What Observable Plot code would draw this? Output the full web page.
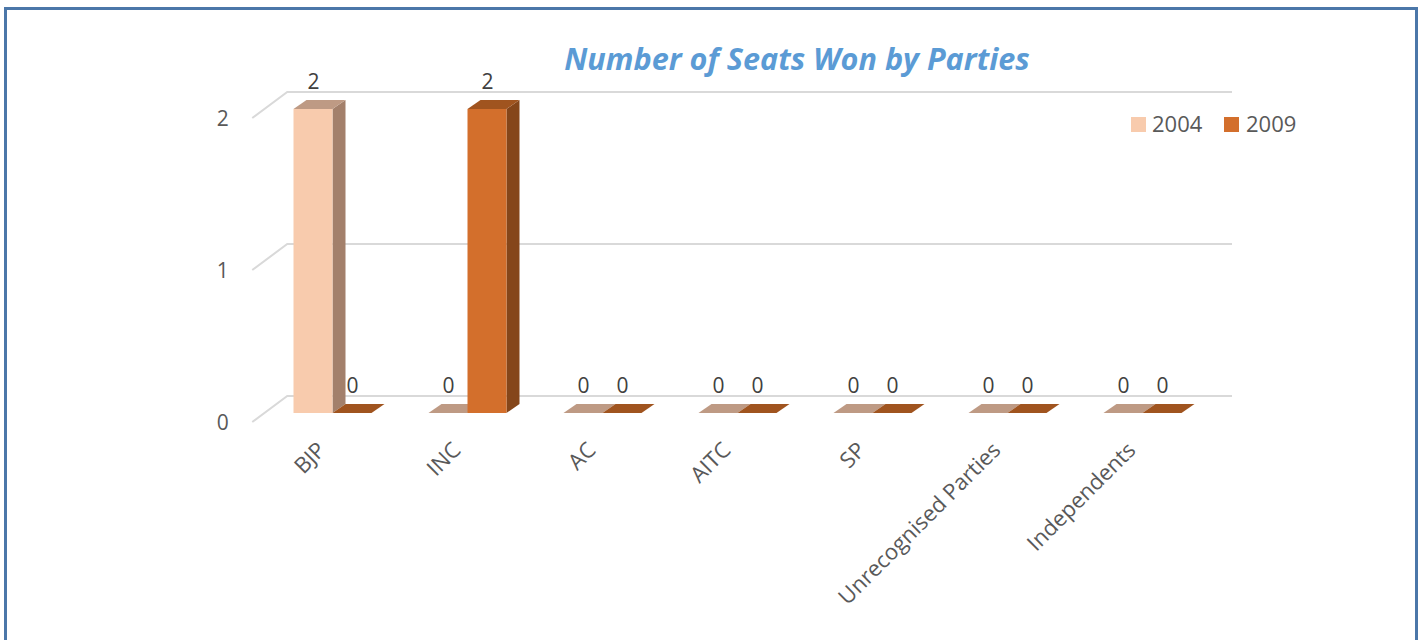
<!DOCTYPE html>
<html><head><meta charset="utf-8">
<script src="https://cdn.jsdelivr.net/npm/d3@7"></script>
<script src="https://cdn.jsdelivr.net/npm/@observablehq/plot@0.6"></script>
<style>
body{margin:0;background:#fff;font-family:"Open Sans",sans-serif;}
#wrap{position:relative;width:1422px;height:640px;overflow:hidden;background:#fff;}
#border{position:absolute;left:4px;top:7px;width:1414px;height:720px;border:3px solid #4b77a9;box-sizing:border-box;}
#title{position:absolute;left:797px;top:37px;transform:translateX(-50%);white-space:nowrap;font:italic bold 30.6px "Open Sans",sans-serif;color:#5B9BD5;}
#chart{position:absolute;left:0;top:0;}
.lg{position:absolute;font:22px "Open Sans",sans-serif;color:#595959;line-height:1;}
.sw{position:absolute;width:15px;height:15px;}
</style></head>
<body><div id="wrap"><div id="border"></div><div id="chart"></div><div id="title"></div><div id="legend"></div></div>
<script>
const parties = ["BJP","INC","AC","AITC","SP","Unrecognised Parties","Independents"];
const seats2004 = [2,0,0,0,0,0,0];
const seats2009 = [0,2,0,0,0,0,0];
const years = ["2004","2009"];
const yTicks = [0,1,2];
const titleText = "Number of Seats Won by Parties";

const colors = {
  "2004": {front:"#F8CBAD", side:"#A3806B", top:"#BE9A84"},
  "2009": {front:"#D36F2C", side:"#85461A", top:"#A0541F"}
};

const rows = [];
parties.forEach((p,i)=>{
  rows.push({party:p, year:"2004", seats:seats2004[i]});
  rows.push({party:p, year:"2009", seats:seats2009[i]});
});

const BARW = 39, DX = 13, DY = -9;

function grid3d(index, scales) {
  const x = scales.x, y = scales.y;
  const [r0, r1] = x.range();
  const g = d3.create("svg:g").attr("stroke","#D9D9D9").attr("stroke-width",2).attr("fill","none");
  for (const t of yTicks) {
    const yy = y(t);
    g.append("path").attr("d",`M${r0-11},${yy+9}L${r0+24},${yy-17}L${r1+20},${yy-17}`);
  }
  return g.node();
}

function bars3d(index, scales) {
  const x = scales.x, y = scales.y;
  const bw = typeof x.bandwidth === "function" ? x.bandwidth() : (x.range()[1]-x.range()[0])/parties.length;
  const g = d3.create("svg:g");
  const y0 = y(0);
  for (const r of rows) {
    const c = x(r.party) + bw/2;
    const x0 = r.year === "2004" ? c - BARW : c;
    const x1 = x0 + BARW;
    const yt = y(r.seats);
    const col = colors[r.year];
    if (r.seats > 0) {
      g.append("path").attr("fill",col.side)
        .attr("d",`M${x1},${yt}L${x1+DX},${yt+DY}L${x1+DX},${y0+DY}L${x1},${y0}Z`);
    }
    g.append("path").attr("fill",col.top)
      .attr("d",`M${x0},${yt}L${x0+DX},${yt+DY}L${x1+DX},${yt+DY}L${x1},${yt}Z`);
    if (r.seats > 0) {
      g.append("rect").attr("fill",col.front).attr("x",x0).attr("y",yt).attr("width",BARW).attr("height",y0-yt);
    }
  }
  return g.node();
}

const plot = Plot.plot({
  width: 1422,
  height: 640,
  marginTop: 109,
  marginBottom: 227,
  marginLeft: 263.25,
  marginRight: 210,
  style: {background:"transparent", fontFamily:"Open Sans", fontSize:"21px", color:"#595959"},
  x: {type:"band", domain: parties, padding: 0, axis: null},
  y: {domain:[0,2], axis: null},
  marks: [
    grid3d,
    bars3d,
    Plot.text(rows.filter(d=>d.year==="2004"), {x:"party", y:"seats", text:d=>String(d.seats), dx:-19.5, dy:-27, fill:"#404040", fontSize:21}),
    Plot.text(rows.filter(d=>d.year==="2009"), {x:"party", y:"seats", text:d=>String(d.seats), dx:19.5, dy:-27, fill:"#404040", fontSize:21}),
    Plot.text(yTicks, {y:d=>d, text:d=>String(d), frameAnchor:"left", dx:-41, dy:10, textAnchor:"middle", fill:"#595959", fontSize:21}),
    Plot.text(parties, {x:d=>d, y:()=>0, text:d=>d, dx:-11, dy:33, rotate:-45, textAnchor:"end", fill:"#595959", fontSize:22})
  ]
});
document.getElementById("chart").appendChild(plot);
document.getElementById("title").textContent = titleText;

const lg = document.getElementById("legend");
const lgPos = [{sx:1131, tx:1152},{sx:1224, tx:1246}];
years.forEach((yr,i)=>{
  const sw = document.createElement("div");
  sw.className = "sw"; sw.style.left = lgPos[i].sx+"px"; sw.style.top = "117px"; sw.style.background = colors[yr].front;
  lg.appendChild(sw);
  const t = document.createElement("div");
  t.className = "lg"; t.style.left = lgPos[i].tx+"px"; t.style.top = "112px"; t.textContent = yr;
  lg.appendChild(t);
});
</script></body></html>
